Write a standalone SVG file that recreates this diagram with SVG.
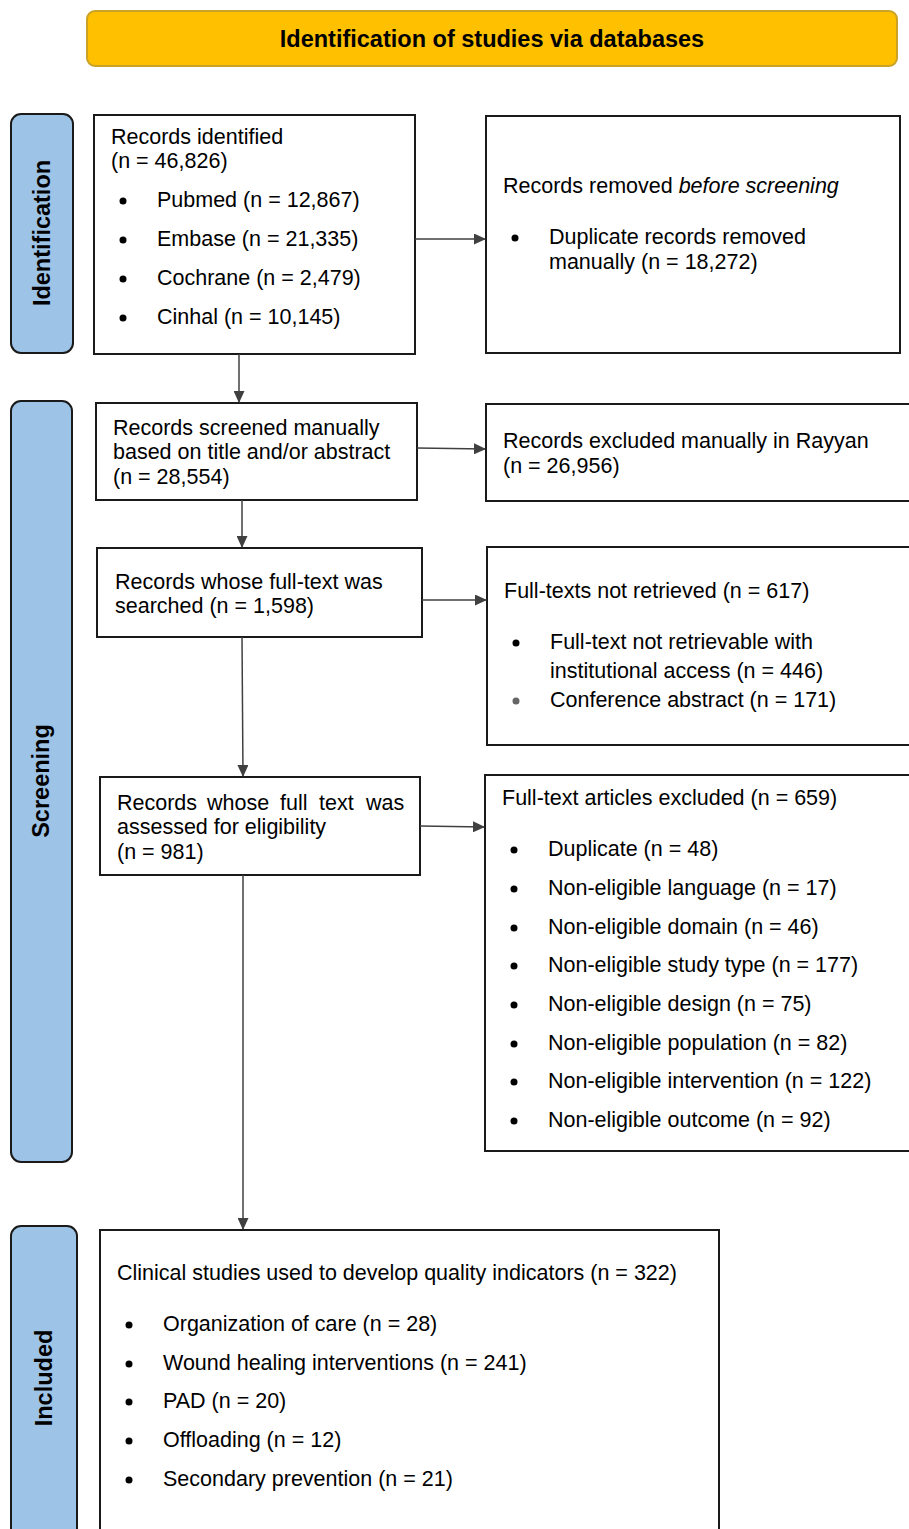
<svg xmlns="http://www.w3.org/2000/svg" width="909" height="1529" viewBox="0 0 909 1529">
<style>
text{font-family:"Liberation Sans",Arial,sans-serif;fill:#000}
.t{font-size:21.5px}
.b{font-size:23.5px;font-weight:bold}
.side{font-size:23.5px;font-weight:bold}
.box{fill:#fff;stroke:#1a1a1a;stroke-width:2}
.bar{fill:#9DC3E6;stroke:#1a1a1a;stroke-width:2}
.conn{stroke:#404040;stroke-width:1.5;fill:none}
.dot{fill:#000}
</style>
<defs>
<marker id="ah" markerWidth="12" markerHeight="11" refX="11" refY="5.5" orient="auto" markerUnits="userSpaceOnUse" viewBox="0 0 12 11">
<path d="M0,0 L12,5.5 L0,11 z" fill="#404040"/>
</marker>
</defs>
<rect width="909" height="1529" fill="#fff"/>

<g id="header">
<rect x="87" y="11" width="810" height="55" rx="8" fill="#FFC000" stroke="#C9A227" stroke-width="2"/>
<text class="b" x="492" y="47" text-anchor="middle">Identification of studies via databases</text>
</g>

<g id="bar-identification">
<rect class="bar" x="11" y="114" width="62" height="239" rx="10"/>
<text class="side" transform="translate(50,233) rotate(-90)" text-anchor="middle">Identification</text>
</g>
<g id="bar-screening">
<rect class="bar" x="11" y="401" width="61" height="761" rx="10"/>
<text class="side" transform="translate(49,781) rotate(-90)" text-anchor="middle">Screening</text>
</g>
<g id="bar-included">
<rect class="bar" x="11" y="1226" width="66" height="320" rx="10"/>
<text class="side" transform="translate(52,1378) rotate(-90)" text-anchor="middle">Included</text>
</g>

<g id="n-identified">
<rect class="box" x="94" y="115" width="321" height="239"/>
<text class="t" x="111" y="144">Records identified</text>
<text class="t" x="111" y="168">(n = 46,826)</text>
<circle class="dot" cx="123" cy="201" r="3.5"/><text class="t" x="157" y="207">Pubmed (n = 12,867)</text>
<circle class="dot" cx="123" cy="240" r="3.5"/><text class="t" x="157" y="246">Embase (n = 21,335)</text>
<circle class="dot" cx="123" cy="279" r="3.5"/><text class="t" x="157" y="285">Cochrane (n = 2,479)</text>
<circle class="dot" cx="123" cy="318" r="3.5"/><text class="t" x="157" y="324">Cinhal (n = 10,145)</text>
</g>

<g id="n-removed">
<rect class="box" x="486" y="116" width="414" height="237"/>
<text class="t" x="503" y="193">Records removed <tspan font-style="italic">before screening</tspan></text>
<circle class="dot" cx="515" cy="238" r="3.5"/><text class="t" x="549" y="244">Duplicate records removed</text>
<text class="t" x="549" y="269">manually (n = 18,272)</text>
</g>

<g id="n-screened">
<rect class="box" x="96" y="403" width="321" height="97"/>
<text class="t" x="113" y="435">Records screened manually</text>
<text class="t" x="113" y="459">based on title and/or abstract</text>
<text class="t" x="113" y="484">(n = 28,554)</text>
</g>

<g id="n-excluded-rayyan">
<rect class="box" x="486" y="404" width="430" height="97"/>
<text class="t" x="503" y="448">Records excluded manually in Rayyan</text>
<text class="t" x="503" y="473">(n = 26,956)</text>
</g>

<g id="n-fulltext-searched">
<rect class="box" x="97" y="548" width="325" height="89"/>
<text class="t" x="115" y="589">Records whose full-text was</text>
<text class="t" x="115" y="613">searched (n = 1,598)</text>
</g>

<g id="n-not-retrieved">
<rect class="box" x="487" y="547" width="430" height="198"/>
<text class="t" x="504" y="598">Full-texts not retrieved (n = 617)</text>
<circle class="dot" cx="516" cy="643" r="3.5"/><text class="t" x="550" y="649">Full-text not retrievable with</text>
<text class="t" x="550" y="678">institutional access (n = 446)</text>
<circle cx="516" cy="701" r="3.5" fill="#666"/><text class="t" x="550" y="707">Conference abstract (n = 171)</text>
</g>

<g id="n-assessed">
<rect class="box" x="100" y="777" width="320" height="98"/>
<text class="t" y="810"><tspan x="117">Records</tspan> <tspan x="207">whose</tspan> <tspan x="280">full</tspan> <tspan x="319">text</tspan> <tspan x="366">was</tspan></text>
<text class="t" x="117" y="834">assessed for eligibility</text>
<text class="t" x="117" y="859">(n = 981)</text>
</g>

<g id="n-ft-excluded">
<rect class="box" x="485" y="775" width="432" height="376"/>
<text class="t" x="502" y="805">Full-text articles excluded (n = 659)</text>
<circle class="dot" cx="514" cy="850" r="3.5"/><text class="t" x="548" y="856">Duplicate (n = 48)</text>
<circle class="dot" cx="514" cy="889" r="3.5"/><text class="t" x="548" y="895">Non-eligible language (n = 17)</text>
<circle class="dot" cx="514" cy="928" r="3.5"/><text class="t" x="548" y="934">Non-eligible domain (n = 46)</text>
<circle class="dot" cx="514" cy="966" r="3.5"/><text class="t" x="548" y="972">Non-eligible study type (n = 177)</text>
<circle class="dot" cx="514" cy="1005" r="3.5"/><text class="t" x="548" y="1011">Non-eligible design (n = 75)</text>
<circle class="dot" cx="514" cy="1044" r="3.5"/><text class="t" x="548" y="1050">Non-eligible population (n = 82)</text>
<circle class="dot" cx="514" cy="1082" r="3.5"/><text class="t" x="548" y="1088">Non-eligible intervention (n = 122)</text>
<circle class="dot" cx="514" cy="1121" r="3.5"/><text class="t" x="548" y="1127">Non-eligible outcome (n = 92)</text>
</g>

<g id="n-included">
<rect class="box" x="100" y="1230" width="619" height="320"/>
<text class="t" x="117" y="1280">Clinical studies used to develop quality indicators (n = 322)</text>
<circle class="dot" cx="129" cy="1325" r="3.5"/><text class="t" x="163" y="1331">Organization of care (n = 28)</text>
<circle class="dot" cx="129" cy="1364" r="3.5"/><text class="t" x="163" y="1370">Wound healing interventions (n = 241)</text>
<circle class="dot" cx="129" cy="1402" r="3.5"/><text class="t" x="163" y="1408">PAD (n = 20)</text>
<circle class="dot" cx="129" cy="1441" r="3.5"/><text class="t" x="163" y="1447">Offloading (n = 12)</text>
<circle class="dot" cx="129" cy="1480" r="3.5"/><text class="t" x="163" y="1486">Secondary prevention (n = 21)</text>
</g>

<g id="connectors">
<line class="conn" x1="415" y1="239" x2="485" y2="239" marker-end="url(#ah)"/>
<line class="conn" x1="239" y1="354" x2="239" y2="402" marker-end="url(#ah)"/>
<line class="conn" x1="417" y1="448" x2="485" y2="449" marker-end="url(#ah)"/>
<line class="conn" x1="242" y1="500" x2="242" y2="547" marker-end="url(#ah)"/>
<line class="conn" x1="422" y1="600" x2="486" y2="600" marker-end="url(#ah)"/>
<line class="conn" x1="242" y1="637" x2="243" y2="776" marker-end="url(#ah)"/>
<line class="conn" x1="420" y1="826" x2="484" y2="827" marker-end="url(#ah)"/>
<line class="conn" x1="243" y1="875" x2="243" y2="1229" marker-end="url(#ah)"/>
</g>
</svg>
